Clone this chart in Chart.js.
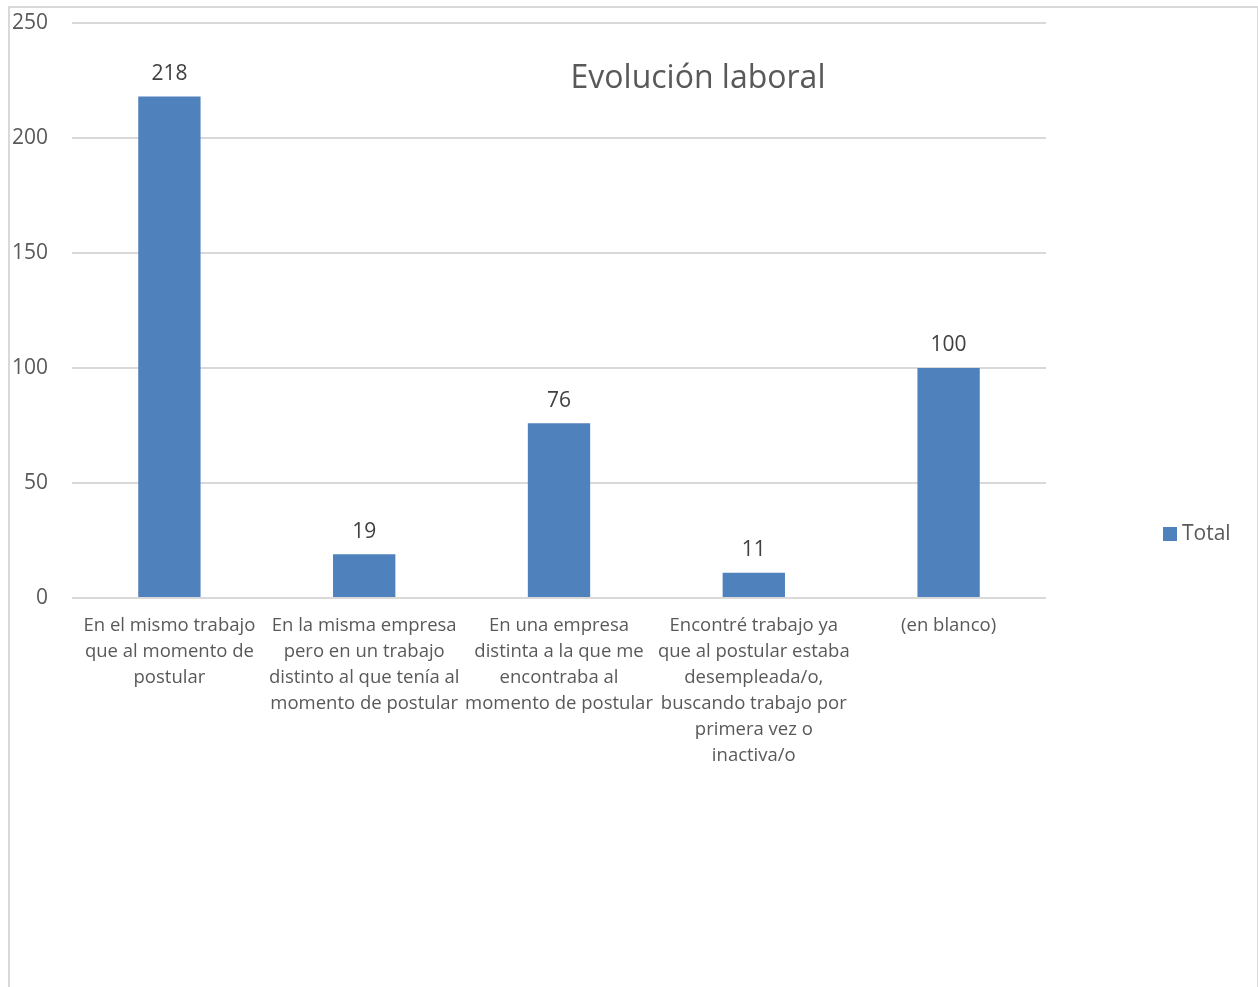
<!DOCTYPE html>
<html>
<head>
<meta charset="utf-8">
<script src="https://cdn.jsdelivr.net/npm/chart.js@4"></script>
<style>
  body { margin: 0; background: #fff; }
  #frame {
    position: absolute; left: 8px; top: 6px; width: 1247px; height: 990px;
    border: 2px solid #d9d9d9; border-bottom: none;
  }
  #wrap { position: absolute; left: 0; top: 0; width: 1258px; height: 987px; }
</style>
</head>
<body>
<div id="frame"></div>
<div id="wrap"><canvas id="myBarChart1" width="1258" height="987"></canvas></div>
<script>
const categories = [
  ['En el mismo trabajo', 'que al momento de', 'postular'],
  ['En la misma empresa', 'pero en un trabajo', 'distinto al que tenía al', 'momento de postular'],
  ['En una empresa', 'distinta a la que me', 'encontraba al', 'momento de postular'],
  ['Encontré trabajo ya', 'que al postular estaba', 'desempleada/o,', 'buscando trabajo por', 'primera vez o', 'inactiva/o'],
  '(en blanco)'
];
const totals = [218, 19, 76, 11, 100];
const seriesName = 'Total';
const chartTitle = 'Evolución laboral';
const yTicks = [0, 50, 100, 150, 200, 250];

const FONT = '"Open Sans", sans-serif';
const barColor = '#4f81bd';

// labels above bars, title inside plot, legend on the right
const extras = {
  id: 'extras',
  afterDatasetsDraw(chart) {
    const { ctx } = chart;
    const meta = chart.getDatasetMeta(0);
    ctx.save();
    ctx.fillStyle = '#404040';
    ctx.font = '21px ' + FONT;
    ctx.textAlign = 'center';
    ctx.textBaseline = 'bottom';
    meta.data.forEach((bar, i) => {
      ctx.fillText(String(chart.data.datasets[0].data[i]), bar.x, bar.y - 12);
    });

    ctx.fillStyle = '#595959';
    ctx.font = '32px ' + FONT;
    ctx.textBaseline = 'middle';
    ctx.fillText(chartTitle, 698, 79);

    ctx.fillStyle = barColor;
    ctx.fillRect(1163, 527, 14, 14);
    ctx.fillStyle = '#595959';
    ctx.font = '21px ' + FONT;
    ctx.textAlign = 'left';
    ctx.fillText(chart.data.datasets[0].label, 1182, 534);
    ctx.restore();
  }
};

const ctx = document.getElementById('myBarChart1').getContext('2d');
const myBarChart = new Chart(ctx, {
  type: 'bar',
  data: {
    labels: categories,
    datasets: [{
      label: seriesName,
      data: totals,
      backgroundColor: barColor,
      borderWidth: 0,
      categoryPercentage: 1,
      barPercentage: 0.32
    }]
  },
  options: {
    responsive: false,
    animation: false,
    layout: { padding: { top: 23, right: 212, left: 0, bottom: 0 } },
    plugins: {
      legend: { display: false },
      tooltip: { enabled: false }
    },
    scales: {
      x: {
        grid: { display: false },
        border: { display: false },
        ticks: {
          autoSkip: false,
          maxRotation: 0,
          minRotation: 0,
          padding: 7,
          color: '#595959',
          font: { family: FONT, size: 18.5, lineHeight: 1.4 }
        },
        afterFit(scale) { scale.height = 389; }
      },
      y: {
        min: 0,
        max: 250,
        afterBuildTicks(scale) { scale.ticks = yTicks.map(v => ({ value: v })); },
        grid: { color: '#d9d9d9', lineWidth: 2, drawTicks: false },
        border: { display: false },
        ticks: {
          padding: 24,
          color: '#595959',
          font: { family: FONT, size: 21 }
        },
        afterFit(scale) {
          scale.width = 72;
          scale.paddingTop = 0;
          scale.paddingBottom = 0;
        }
      }
    }
  },
  plugins: [extras]
});
</script>
</body>
</html>
